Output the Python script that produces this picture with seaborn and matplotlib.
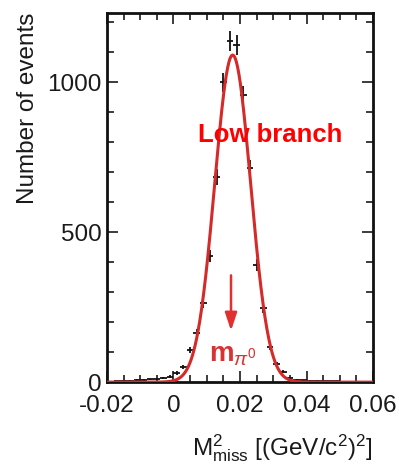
import numpy as np
import pandas as pd
import matplotlib
matplotlib.use("Agg")
import matplotlib.pyplot as plt
import seaborn as sns
from matplotlib.ticker import MultipleLocator

#data (bin centres, counts)
bin_centers = [-0.019, -0.017, -0.015, -0.013, -0.011, -0.009, -0.007, -0.005, -0.003, -0.001,
               0.001, 0.003, 0.005, 0.007, 0.009, 0.011, 0.013, 0.015, 0.017, 0.019,
               0.021, 0.023, 0.025, 0.027, 0.029, 0.031, 0.033, 0.035, 0.037, 0.039,
               0.041, 0.043, 0.045, 0.047, 0.049, 0.051, 0.053, 0.055, 0.057, 0.059]
counts = [2, 3, 4, 5, 7, 8, 9, 11, 14, 18,
          30, 50, 107, 163, 263, 420, 683, 1000, 1137, 1123,
          957, 713, 390, 247, 117, 60, 35, 14, 8, 6,
          5, 4, 4, 3, 3, 2, 2, 2, 1, 1]
bin_half_width = 0.001

#fit result (gaussian)
fit_peak = 1090
fit_mean = 0.0178
fit_sigma = 0.0054

x_ticks = [-0.02, 0, 0.02, 0.04, 0.06]
x_tick_labels = ["-0.02", "0", "0.02", "0.04", "0.06"]
y_ticks = [0, 500, 1000]

df = pd.DataFrame({"x": bin_centers, "n": counts})
df["err"] = np.sqrt(df["n"])

x_fit = np.linspace(-0.02, 0.06, 400)
fit = pd.DataFrame({"x": x_fit,
                    "y": fit_peak * np.exp(-0.5 * ((x_fit - fit_mean) / fit_sigma) ** 2)})

#setting
sns.set_theme(style="ticks")
plt.rcParams["font.family"] = ["Liberation Sans", "DejaVu Sans"]
plt.rcParams["mathtext.fontset"] = "custom"
plt.rcParams["mathtext.rm"] = "Liberation Sans"
plt.rcParams["mathtext.bf"] = "Liberation Sans:bold"
plt.rcParams["mathtext.it"] = "Liberation Sans:italic"

fig = plt.figure(figsize=(3.99, 4.66), dpi=100)
ax = fig.add_axes([0.268, 0.180, 0.667, 0.792])

ax.errorbar(df["x"], df["n"], yerr=df["err"], xerr=bin_half_width,
            fmt="none", ecolor="#111111", elinewidth=1.3, capsize=0, zorder=2)
sns.lineplot(data=fit, x="x", y="y", ax=ax, color="#d42a2a", lw=2.2, zorder=3)

ax.set_xlim(-0.02, 0.06)
ax.set_ylim(0, 1230)
ax.set_xticks(x_ticks)
ax.set_xticklabels(x_tick_labels)
ax.set_yticks(y_ticks)
ax.xaxis.set_minor_locator(MultipleLocator(0.005))
ax.yaxis.set_minor_locator(MultipleLocator(100))
ax.tick_params(which="both", direction="in", top=True, right=True,
               labelsize=17.5, colors="#1a1a1a", width=1.2, pad=4)
ax.tick_params(axis="x", which="major", pad=9)
ax.tick_params(which="major", length=8)
ax.tick_params(which="minor", length=5)
for s in ax.spines.values():
    s.set_linewidth(2)
    s.set_color("#111111")

ax.set_xlabel(r"M$^{2}_{\mathrm{miss}}$ [(GeV/c$^{2}$)$^{2}$]", fontsize=17.5,
              color="#1a1a1a", loc="right", labelpad=11)
ax.set_ylabel("Number of events", fontsize=17.5, color="#1a1a1a", loc="top", labelpad=6)

ax.text(0.029, 823, "Low branch", color="#ff0000", fontsize=18.5,
        fontweight="bold", ha="center", va="center")
ax.annotate("", xy=(0.0173, 162), xytext=(0.0173, 365),
            arrowprops=dict(arrowstyle="-|>,head_length=0.9,head_width=0.3",
                            color="#e03030", lw=1.8))
ax.text(0.0178, 90, r"$\mathbf{m}_{\pi^{0}}$", color="#d83232", fontsize=20,
        ha="center", va="center")

plt.savefig("out.png", dpi=100)
